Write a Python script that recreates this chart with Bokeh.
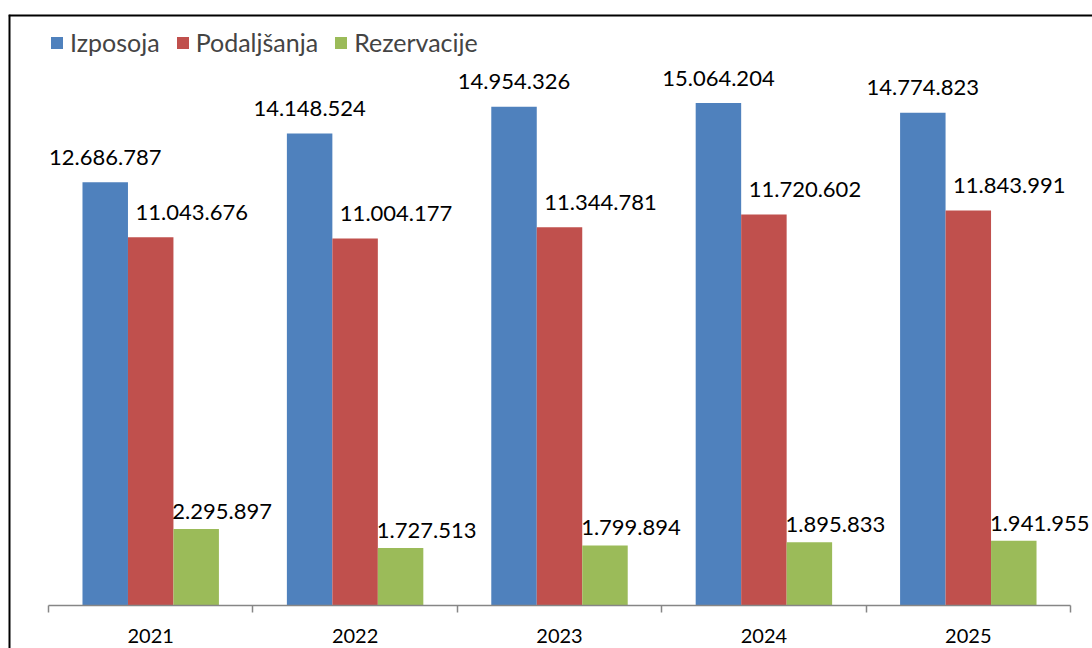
from bokeh.plotting import figure
from bokeh.models import (ColumnDataSource, Range1d, FixedTicker, Legend, LegendItem,
                          LabelSet, Span)
from bokeh.transform import dodge
from bokeh.core.properties import value
from bokeh.embed import file_html
from bokeh.resources import INLINE

years = ["2021", "2022", "2023", "2024", "2025"]
izposoja = [12686787, 14148524, 14954326, 15064204, 14774823]
podaljsanja = [11043676, 11004177, 11344781, 11720602, 11843991]
rezervacije = [2295897, 1727513, 1799894, 1895833, 1941955]

series_names = ["Izposoja", "Podaljšanja", "Rezervacije"]
colors = ["#4F81BD", "#C0504D", "#9BBB59"]

FONT = "Lato"


def fmt(v):
    return f"{v:,}".replace(",", ".")


pos = [i + 0.5 for i in range(len(years))]
src = ColumnDataSource(dict(
    x=pos,
    izp=izposoja, pod=podaljsanja, rez=rezervacije,
    izp_t=[fmt(v) for v in izposoja],
    pod_t=[fmt(v) for v in podaljsanja],
    rez_t=[fmt(v) for v in rezervacije],
))

xr = Range1d(-0.1957, 5.1076)
yr = Range1d(-1289000, 17720000)
p = figure(width=1092, height=648, x_range=xr, y_range=yr,
           output_backend="svg", toolbar_location=None,
           min_border_left=8, min_border_right=0, min_border_top=14, min_border_bottom=0)
p.outline_line_color = None
p.background_fill_color = "white"
p.border_fill_color = "white"
p.grid.visible = False
p.yaxis.visible = False

# chart border (left and top edges; right/bottom lie outside the visible area)
p.add_layout(Span(location=xr.start, dimension="height", line_color="black", line_width=4))
p.add_layout(Span(location=yr.end, dimension="width", line_color="black", line_width=4))

bw = 0.2225
cols = ["izp", "pod", "rez"]
offsets = [-bw, 0.0, bw]
lab_dx = [0, 41, 26]
lab_dy = [25, 25, 17.5]
renderers = []
for c, off, col in zip(cols, offsets, colors):
    r = p.vbar(x=dodge("x", off), top=c, width=bw, bottom=0, source=src,
               fill_color=col, line_color=None)
    renderers.append(r)
for c, off, dx, dy in zip(cols, offsets, lab_dx, lab_dy):
    p.add_layout(LabelSet(x=dodge("x", off), y=c, text=c + "_t", source=src,
                          x_offset=dx, y_offset=dy, text_align="center",
                          text_baseline="middle", text_font=value(FONT),
                          text_font_size="22px", text_color="black"))

legend = Legend(items=[LegendItem(label=n, renderers=[r]) for n, r in zip(series_names, renderers)],
                orientation="horizontal", location=(41, 591), margin=0, padding=0,
                spacing=15, label_standoff=6, glyph_width=15, glyph_height=15,
                label_text_font=FONT, label_text_font_size="25px",
                border_line_color=None, background_fill_alpha=0)
p.add_layout(legend)

ax = p.xaxis[0]
ax.fixed_location = 0
ax.bounds = (0, 5)
ax.ticker = FixedTicker(ticks=pos, minor_ticks=[0, 1, 2, 3, 4, 5])
ax.major_label_overrides = {x: y for x, y in zip(pos, years)}
ax.major_tick_line_color = None
ax.major_tick_out = 0
ax.major_tick_in = 0
ax.minor_tick_out = 7
ax.minor_tick_in = 0
ax.minor_tick_line_color = "#868686"
ax.minor_tick_line_width = 1.5
ax.axis_line_color = "#868686"
ax.axis_line_width = 1.5
ax.major_label_text_font = FONT
ax.major_label_text_font_size = "20px"
ax.major_label_text_color = "black"
ax.major_label_standoff = 16

open("out.html", "w").write(file_html(p, INLINE))
